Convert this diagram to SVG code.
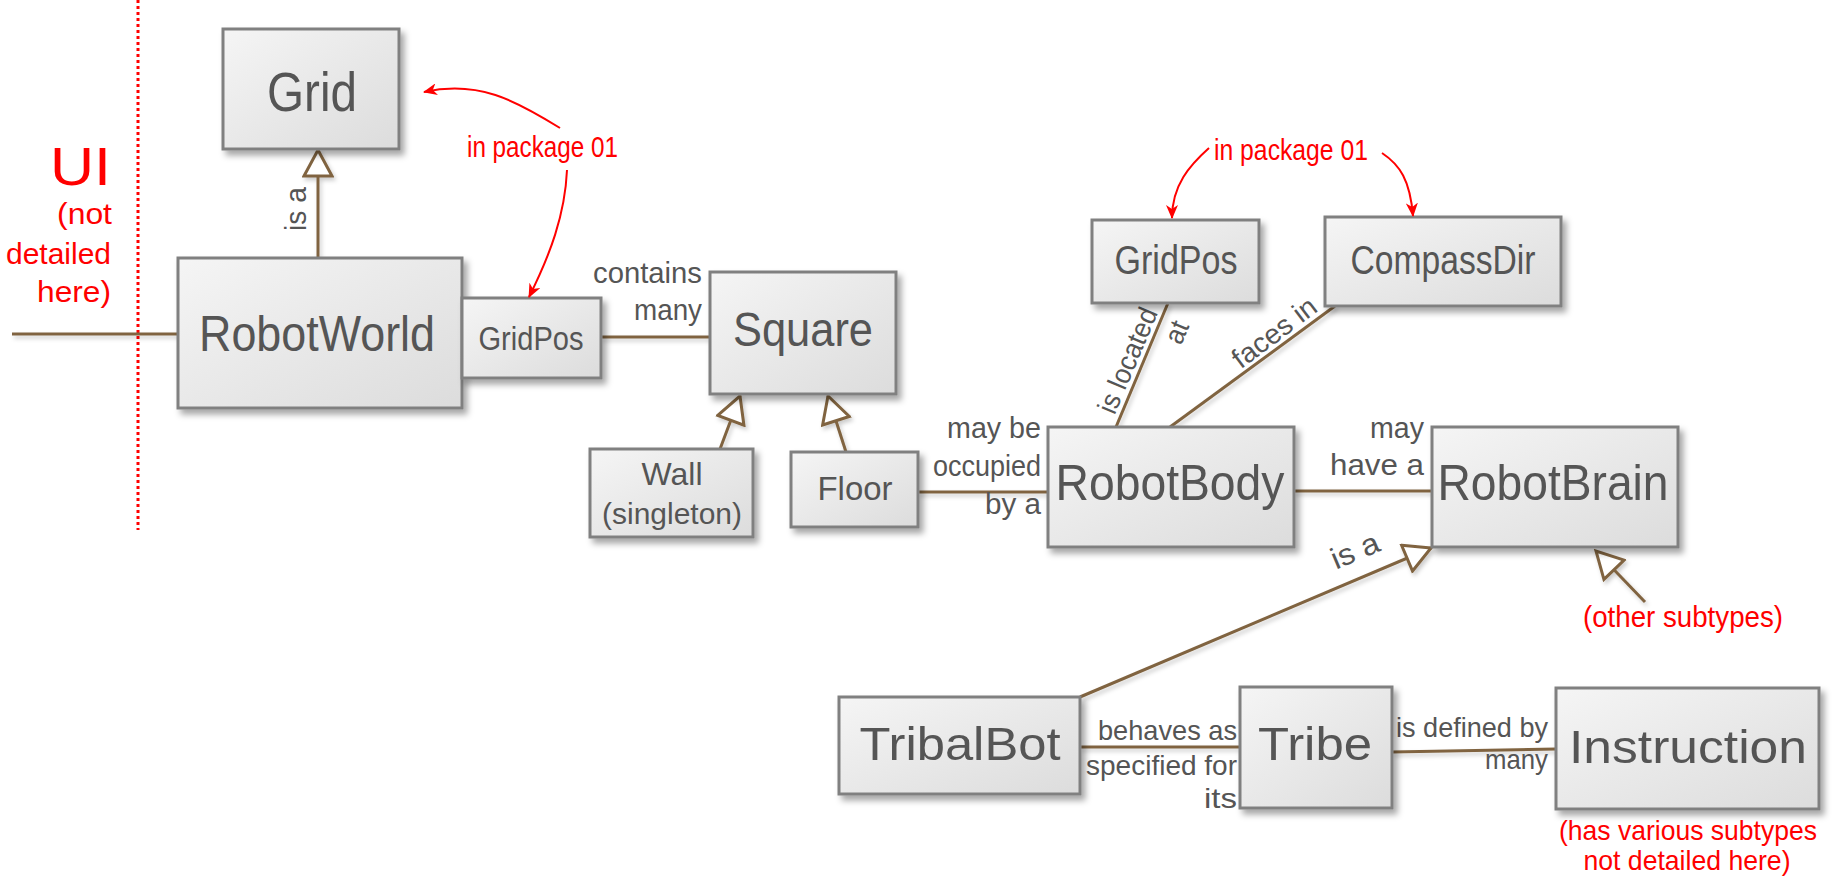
<svg xmlns="http://www.w3.org/2000/svg" width="1833" height="882" viewBox="0 0 1833 882">
<defs>
<linearGradient id="boxg" x1="0" y1="0" x2="1" y2="1">
<stop offset="0" stop-color="#f5f5f5"/>
<stop offset="1" stop-color="#dcdcdc"/>
</linearGradient>
<filter id="sh" x="-10%" y="-10%" width="130%" height="140%">
<feDropShadow dx="4" dy="5" stdDeviation="3" flood-color="#000" flood-opacity="0.35"/>
</filter>
<filter id="lsh" x="-10%" y="-10%" width="130%" height="140%">
<feDropShadow dx="2" dy="3" stdDeviation="2" flood-color="#000" flood-opacity="0.2"/>
</filter>
<marker id="tri" viewBox="0 0 32 32" refX="29" refY="16" markerWidth="32" markerHeight="32" markerUnits="userSpaceOnUse" orient="auto">
<path d="M3,2 L29,16 L3,30 Z" fill="#fff" stroke="#806440" stroke-width="3" stroke-linejoin="miter"/>
</marker>
<marker id="red" viewBox="0 0 14 12" refX="13" refY="6" markerWidth="14" markerHeight="12" markerUnits="userSpaceOnUse" orient="auto">
<path d="M0,0 L14,6 L0,12 L4,6 Z" fill="#ff0000"/>
</marker>
</defs>
<style>
.box{fill:url(#boxg);stroke:#808080;stroke-width:3;filter:url(#sh)}
.t{font-family:"Liberation Sans Narrow","Liberation Sans",sans-serif;fill:#555555}
.c{text-anchor:middle}
.e{text-anchor:end}
.r{font-family:"Liberation Sans Narrow","Liberation Sans",sans-serif;fill:#ff0000}
.ln{fill:none;stroke:#806440;stroke-width:3}
.rl{fill:none;stroke:#ff0000;stroke-width:2}
</style>

<g id="ui-boundary">
<line x1="138" y1="0" x2="138" y2="530" stroke="#ff0000" stroke-width="3" stroke-dasharray="3,3"/>
<text class="r e" x="111" y="185" font-size="54" textLength="61" lengthAdjust="spacingAndGlyphs">UI</text>
<text class="r e" x="112" y="224" font-size="30" textLength="55" lengthAdjust="spacingAndGlyphs">(not</text>
<text class="r e" x="111" y="264" font-size="30" textLength="105" lengthAdjust="spacingAndGlyphs">detailed</text>
<text class="r e" x="111" y="302" font-size="30" textLength="74" lengthAdjust="spacingAndGlyphs">here)</text>
</g>

<g id="connectors" filter="url(#lsh)">
<path class="ln" d="M12,334 H178"/>
<path class="ln" d="M318,258 V150" marker-end="url(#tri)"/>
<path class="ln" d="M601,337 H710"/>
<path class="ln" d="M720,449 L740,396" marker-end="url(#tri)"/>
<path class="ln" d="M846,452 L828,396" marker-end="url(#tri)"/>
<path class="ln" d="M918,492 H1048"/>
<path class="ln" d="M1168,303 L1116,427"/>
<path class="ln" d="M1335,306 L1170,427"/>
<path class="ln" d="M1294,491 H1432"/>
<path class="ln" d="M1080,697 L1431,548" marker-end="url(#tri)"/>
<path class="ln" d="M1645,602 L1596,551" marker-end="url(#tri)"/>
<path class="ln" d="M1080,747 H1240"/>
<path class="ln" d="M1392,752 L1556,749"/>
</g>

<g id="labels">
<text class="t c" transform="translate(306,209) rotate(-90)" font-size="30" textLength="44" lengthAdjust="spacingAndGlyphs">is a</text>
<text class="t e" x="702" y="283" font-size="30" textLength="109" lengthAdjust="spacingAndGlyphs">contains</text>
<text class="t e" x="702" y="320" font-size="30" textLength="68" lengthAdjust="spacingAndGlyphs">many</text>
<text class="t e" x="1041" y="438" font-size="30" textLength="94" lengthAdjust="spacingAndGlyphs">may be</text>
<text class="t e" x="1041" y="476" font-size="30" textLength="108" lengthAdjust="spacingAndGlyphs">occupied</text>
<text class="t e" x="1041" y="514" font-size="30" textLength="56" lengthAdjust="spacingAndGlyphs">by a</text>
<text class="t e" x="1424" y="438" font-size="30" textLength="54" lengthAdjust="spacingAndGlyphs">may</text>
<text class="t e" x="1424" y="475" font-size="30" textLength="94" lengthAdjust="spacingAndGlyphs">have a</text>
<g transform="translate(1136,365) rotate(-67)">
<text class="t e" x="57" y="0" font-size="28" textLength="112" lengthAdjust="spacingAndGlyphs">is located</text>
<text class="t e" x="57" y="34" font-size="28" textLength="22" lengthAdjust="spacingAndGlyphs">at</text>
</g>
<text class="t c" transform="translate(1280,340) rotate(-37)" font-size="28" textLength="98" lengthAdjust="spacingAndGlyphs">faces in</text>
<text class="t c" transform="translate(1359,560) rotate(-23)" font-size="30" textLength="50" lengthAdjust="spacingAndGlyphs">is a</text>
<text class="t e" x="1237" y="740" font-size="28" textLength="139" lengthAdjust="spacingAndGlyphs">behaves as</text>
<text class="t e" x="1237" y="775" font-size="28" textLength="151" lengthAdjust="spacingAndGlyphs">specified for</text>
<text class="t e" x="1237" y="808" font-size="28" textLength="33" lengthAdjust="spacingAndGlyphs">its</text>
<text class="t e" x="1548" y="737" font-size="28" textLength="152" lengthAdjust="spacingAndGlyphs">is defined by</text>
<text class="t e" x="1548" y="769" font-size="28" textLength="63" lengthAdjust="spacingAndGlyphs">many</text>
</g>

<g id="grid"><rect class="box" x="223" y="29" width="176" height="120"/>
<text class="t c" x="312" y="111" font-size="56" textLength="90" lengthAdjust="spacingAndGlyphs">Grid</text></g>
<g id="robotworld"><rect class="box" x="178" y="258" width="284" height="150"/>
<text class="t c" x="317" y="351" font-size="50" textLength="236" lengthAdjust="spacingAndGlyphs">RobotWorld</text></g>
<g id="gridpos-world"><rect class="box" x="462" y="298" width="139" height="80"/>
<text class="t c" x="531" y="350" font-size="34" textLength="105" lengthAdjust="spacingAndGlyphs">GridPos</text></g>
<g id="square"><rect class="box" x="710" y="272" width="186" height="122"/>
<text class="t c" x="803" y="346" font-size="48" textLength="140" lengthAdjust="spacingAndGlyphs">Square</text></g>
<g id="wall"><rect class="box" x="590" y="449" width="163" height="88"/>
<text class="t c" x="672" y="485" font-size="32" textLength="61" lengthAdjust="spacingAndGlyphs">Wall</text>
<text class="t c" x="672" y="524" font-size="30" textLength="140" lengthAdjust="spacingAndGlyphs">(singleton)</text></g>
<g id="floor"><rect class="box" x="791" y="452" width="127" height="75"/>
<text class="t c" x="855" y="500" font-size="34" textLength="75" lengthAdjust="spacingAndGlyphs">Floor</text></g>
<g id="robotbody"><rect class="box" x="1048" y="427" width="246" height="120"/>
<text class="t c" x="1170" y="500" font-size="50" textLength="229" lengthAdjust="spacingAndGlyphs">RobotBody</text></g>
<g id="gridpos-body"><rect class="box" x="1092" y="220" width="167" height="83"/>
<text class="t c" x="1176" y="274" font-size="40" textLength="123" lengthAdjust="spacingAndGlyphs">GridPos</text></g>
<g id="compassdir"><rect class="box" x="1325" y="217" width="236" height="89"/>
<text class="t c" x="1443" y="274" font-size="40" textLength="185" lengthAdjust="spacingAndGlyphs">CompassDir</text></g>
<g id="robotbrain"><rect class="box" x="1432" y="427" width="246" height="120"/>
<text class="t c" x="1553" y="500" font-size="50" textLength="231" lengthAdjust="spacingAndGlyphs">RobotBrain</text></g>
<g id="tribalbot"><rect class="box" x="839" y="697" width="241" height="97"/>
<text class="t c" x="960" y="760" font-size="46" textLength="201" lengthAdjust="spacingAndGlyphs">TribalBot</text></g>
<g id="tribe"><rect class="box" x="1240" y="687" width="152" height="121"/>
<text class="t c" x="1315" y="760" font-size="46" textLength="114" lengthAdjust="spacingAndGlyphs">Tribe</text></g>
<g id="instruction"><rect class="box" x="1556" y="688" width="263" height="121"/>
<text class="t c" x="1688" y="763" font-size="46" textLength="238" lengthAdjust="spacingAndGlyphs">Instruction</text></g>

<g id="notes">
<path class="rl" d="M560,128 C515,100 478,80 424,92" marker-end="url(#red)"/>
<path class="rl" d="M567,170 C565,215 550,255 529,297" marker-end="url(#red)"/>
<text class="r" x="467" y="157" font-size="30" textLength="151" lengthAdjust="spacingAndGlyphs">in package 01</text>
<path class="rl" d="M1209,148 C1190,165 1172,185 1172,218" marker-end="url(#red)"/>
<path class="rl" d="M1382,153 C1400,165 1410,180 1413,216" marker-end="url(#red)"/>
<text class="r" x="1214" y="160" font-size="30" textLength="154" lengthAdjust="spacingAndGlyphs">in package 01</text>
<text class="r" x="1583" y="627" font-size="30" textLength="200" lengthAdjust="spacingAndGlyphs">(other subtypes)</text>
<text class="r c" x="1688" y="840" font-size="28" textLength="258" lengthAdjust="spacingAndGlyphs">(has various subtypes</text>
<text class="r c" x="1687" y="870" font-size="28" textLength="207" lengthAdjust="spacingAndGlyphs">not detailed here)</text>
</g>
</svg>
